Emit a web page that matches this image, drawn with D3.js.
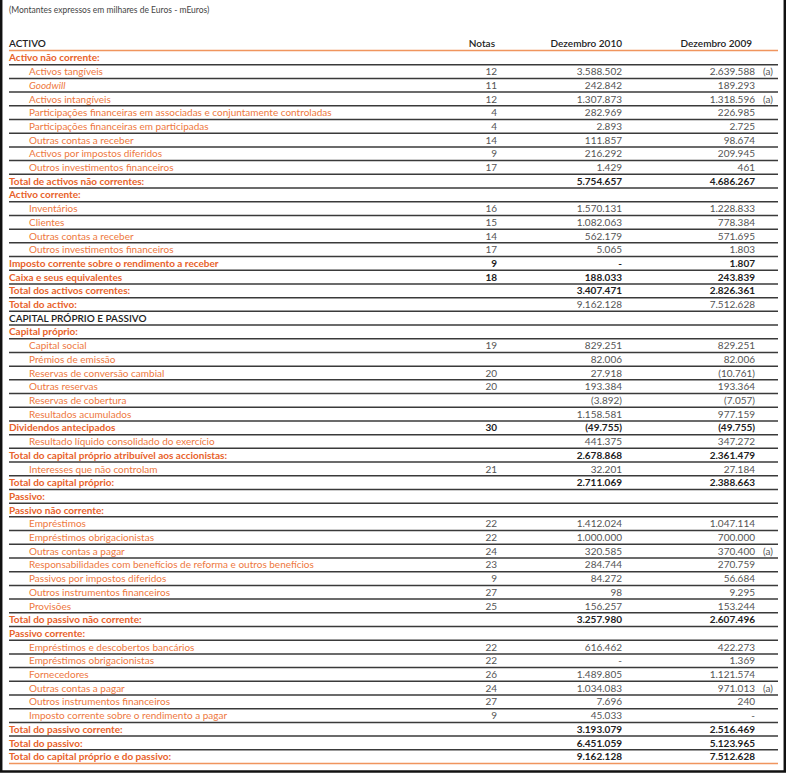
<!DOCTYPE html>
<html>
<head>
<meta charset="utf-8">
<script src="https://cdn.jsdelivr.net/npm/d3@7"></script>
<style>
  body { margin: 0; background: #fff; }
  svg { display: block; font-family: Lato, "Open Sans", sans-serif; }
</style>
</head>
<body>
<svg id="chart" width="786" height="773"></svg>
<script>
// balance sheet rows: label, kind, notas, Dez 2010, Dez 2009, (a) flag
// kinds: S = section header, I = item, T = bold total, B = bold label / plain values, C = caps title
const labels = [
  "Activo não corrente:", "Activos tangíveis", "Goodwill", "Activos intangíveis",
  "Participações financeiras em associadas e conjuntamente controladas",
  "Participações financeiras em participadas", "Outras contas a receber",
  "Activos por impostos diferidos", "Outros investimentos financeiros",
  "Total de activos não correntes:", "Activo corrente:", "Inventários", "Clientes",
  "Outras contas a receber", "Outros investimentos financeiros",
  "Imposto corrente sobre o rendimento a receber", "Caixa e seus equivalentes",
  "Total dos activos correntes:", "Total do activo:", "CAPITAL PRÓPRIO E PASSIVO",
  "Capital próprio:", "Capital social", "Prémios de emissão", "Reservas de conversão cambial",
  "Outras reservas", "Reservas de cobertura", "Resultados acumulados", "Dividendos antecipados",
  "Resultado líquido consolidado do exercício",
  "Total do capital próprio atribuível aos accionistas:", "Interesses que não controlam",
  "Total do capital próprio:", "Passivo:", "Passivo não corrente:", "Empréstimos",
  "Empréstimos obrigacionistas", "Outras contas a pagar",
  "Responsabilidades com benefícios de reforma e outros benefícios",
  "Passivos por impostos diferidos", "Outros instrumentos financeiros", "Provisões",
  "Total do passivo não corrente:", "Passivo corrente:", "Empréstimos e descobertos bancários",
  "Empréstimos obrigacionistas", "Fornecedores", "Outras contas a pagar",
  "Outros instrumentos financeiros", "Imposto corrente sobre o rendimento a pagar",
  "Total do passivo corrente:", "Total do passivo:", "Total do capital próprio e do passivo:"
];
const kinds = ["S","I","I","I","I","I","I","I","I","T","S","I","I","I","I","T","T","T","B","C",
  "S","I","I","I","I","I","I","T","I","T","I","T","S","S","I","I","I","I","I","I","I","T",
  "S","I","I","I","I","I","I","T","T","T"];
const notas = ["",12,11,12,4,4,14,9,17,"","",16,15,14,17,9,18,"","","",
  "",19,"",20,20,"","",30,"","",21,"","","",22,22,24,23,9,27,25,"",
  "",22,22,26,24,27,9,"","",""];
const dez2010 = [null,3588502,242842,1307873,282969,2893,111857,216292,1429,5754657,
  null,1570131,1082063,562179,5065,"-",188033,3407471,9162128,null,
  null,829251,82006,27918,193384,-3892,1158581,-49755,441375,2678868,32201,2711069,
  null,null,1412024,1000000,320585,284744,84272,98,156257,3257980,
  null,616462,"-",1489805,1034083,7696,45033,3193079,6451059,9162128];
const dez2009 = [null,2639588,189293,1318596,226985,2725,98674,209945,461,4686267,
  null,1228833,778384,571695,1803,1807,243839,2826361,7512628,null,
  null,829251,82006,-10761,193364,-7057,977159,-49755,347272,2361479,27184,2388663,
  null,null,1047114,700000,370400,270759,56684,9295,153244,2607496,
  null,422273,1369,1121574,971013,240,"-",2516469,5123965,7512628];
const flagged = [1,3,36,46];   // rows carrying "(a)"
const italicRows = [2];

const headers = ["ACTIVO", "Notas", "Dezembro 2010", "Dezembro 2009"];

const ptLocale = d3.formatLocale({decimal: ",", thousands: ".", grouping: [3], currency: ["", ""]});
const fmt = ptLocale.format("(,.0f");
const show = v => v === null ? "" : (v === "-" ? "-" : fmt(v));

const svg = d3.select("#chart");
const orange = "#ee7840", orangeBold = "#e8622a", lineCol = "#3a3a3a";

const rows = labels.map((l, i) => ({
  i, label: l, kind: kinds[i], nota: notas[i], v10: dez2010[i], v09: dez2009[i]
}));

const y = d3.scaleBand().domain(d3.range(rows.length)).range([51, 763.5]);
const x = d3.scaleOrdinal()
  .domain(["line0", "label", "indent", "notas", "dez2010", "dez2009", "flag", "line1"])
  .range([9, 9, 29, 497, 622, 755, 763, 778]);

// note on top
svg.append("text").attr("x", 9).attr("y", 13)
  .attr("font-size", 8.5).attr("fill", "#444")
  .text("(Montantes expressos em milhares de Euros - mEuros)");

// column headers
const hdr = svg.append("g").attr("font-size", 10).attr("font-weight", 600).attr("fill", "#222");
hdr.append("text").attr("x", x("label")).attr("y", 46.5).text(headers[0]);
hdr.append("text").attr("x", x("notas") - 2).attr("y", 46.5).attr("text-anchor", "end").text(headers[1]);
hdr.append("text").attr("x", x("dez2010")).attr("y", 46.5).attr("text-anchor", "end").text(headers[2]);
hdr.append("text").attr("x", x("dez2009") - 3).attr("y", 46.5).attr("text-anchor", "end").text(headers[3]);

svg.append("line").attr("x1", x("line0")).attr("x2", x("line1"))
  .attr("y1", 50.5).attr("y2", 50.5).attr("stroke", "#f0955e").attr("stroke-width", 1.6);

// row separators
svg.append("g").selectAll("line").data(rows).join("line")
  .attr("x1", x("line0")).attr("x2", x("line1"))
  .attr("y1", d => y(d.i) + y.bandwidth()).attr("y2", d => y(d.i) + y.bandwidth())
  .attr("stroke", d => d.i === rows.length - 1 ? "#f0955e" : lineCol)
  .attr("stroke-width", 1.5);

const g = svg.append("g").selectAll("g").data(rows).join("g")
  .attr("transform", d => `translate(0,${y(d.i) + y.bandwidth() / 2 + 3.6})`);

g.append("text")
  .attr("x", d => d.kind === "I" ? x("indent") : x("label"))
  .attr("font-size", 10)
  .attr("font-weight", d => d.kind === "I" ? 400 : (d.kind === "C" ? 600 : 700))
  .attr("font-style", d => italicRows.includes(d.i) ? "italic" : "normal")
  .attr("fill", d => d.kind === "C" ? "#222" : (d.kind === "I" ? orange : orangeBold))
  .text(d => d.label);

const bold = d => d.kind === "T";

g.append("text").attr("x", x("notas")).attr("text-anchor", "end")
  .attr("font-size", 10).attr("font-weight", d => bold(d) ? 700 : 400)
  .attr("fill", d => bold(d) ? "#222" : "#555")
  .text(d => d.nota);

g.append("text").attr("x", x("dez2010")).attr("text-anchor", "end")
  .attr("font-size", 10).attr("font-weight", d => bold(d) ? 700 : 400)
  .attr("fill", d => bold(d) ? "#222" : "#555")
  .text(d => show(d.v10));

g.append("text").attr("x", x("dez2009")).attr("text-anchor", "end")
  .attr("font-size", 10).attr("font-weight", d => bold(d) ? 700 : 400)
  .attr("fill", d => bold(d) ? "#222" : "#555")
  .text(d => show(d.v09));

g.filter(d => flagged.includes(d.i)).append("text")
  .attr("x", x("flag")).attr("font-size", 10).attr("fill", "#555").text("(a)");

// frame
const frame = svg.append("g").attr("stroke", "#111").attr("stroke-width", 2.5);
frame.append("line").attr("x1", 1.2).attr("x2", 1.2).attr("y1", 0).attr("y2", 772);
frame.append("line").attr("x1", 784.8).attr("x2", 784.8).attr("y1", 0).attr("y2", 772);
frame.append("line").attr("x1", 0).attr("x2", 786).attr("y1", 771.5).attr("y2", 771.5);
</script>
</body>
</html>
